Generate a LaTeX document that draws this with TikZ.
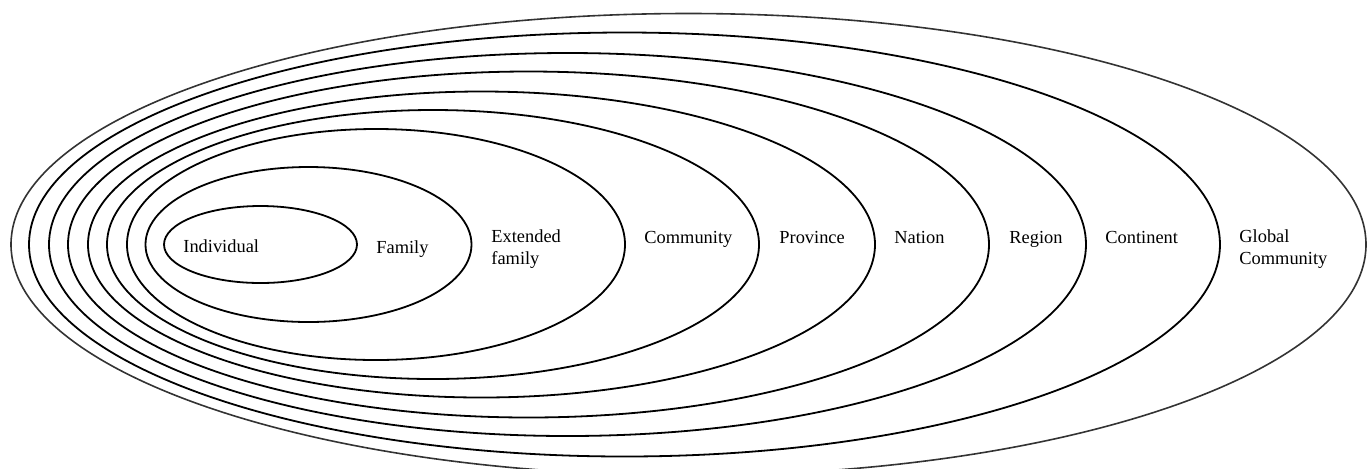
\documentclass[tikz,border=0pt]{standalone}
\usepackage{fontspec}
\setmainfont{Liberation Serif}
\begin{document}
\begin{tikzpicture}[x=0.5pt,y=-0.5pt,
  ring/.style={draw=black,line width=0.9pt},
  outerring/.style={draw=black!80,line width=0.8pt},
  lbl/.style={anchor=base west,inner sep=0pt,font=\fontsize{9.2pt}{11pt}\selectfont,align=left}]
\useasboundingbox (0,0) rectangle (1367,468);
\clip (0,0) rectangle (1367,468);
\draw[outerring] (688.5,244.5) ellipse [x radius=677.5, y radius=231];
\draw[ring] (624.5,244.5) ellipse [x radius=595.5, y radius=212];
\draw[ring] (567.5,244.5) ellipse [x radius=518.5, y radius=191.5];
\draw[ring] (528.5,244.5) ellipse [x radius=460.5, y radius=173];
\draw[ring] (481.5,244.5) ellipse [x radius=393.5, y radius=153];
\draw[ring] (433,244.5) ellipse [x radius=326, y radius=134.5];
\draw[ring] (376,244.5) ellipse [x radius=249, y radius=115.5];
\draw[ring] (308.5,244.5) ellipse [x radius=163, y radius=77.5];
\draw[ring] (260.5,244.5) ellipse [x radius=96.5, y radius=38.5];
\node[lbl] (ind) at (183,252) {Individual};
\node[lbl] (fam) at (376,253) {Family};
\node[lbl] (ext) at (491,264) {Extended\\family};
\node[lbl] (com) at (644,243) {Community};
\node[lbl] (prov) at (779,243) {Province};
\node[lbl] (nat) at (894,243) {Nation};
\node[lbl] (reg) at (1009,243) {Region};
\node[lbl] (cont) at (1105,243) {Continent};
\node[lbl] (glob) at (1239,264) {Global\\Community};
\end{tikzpicture}
\end{document}
